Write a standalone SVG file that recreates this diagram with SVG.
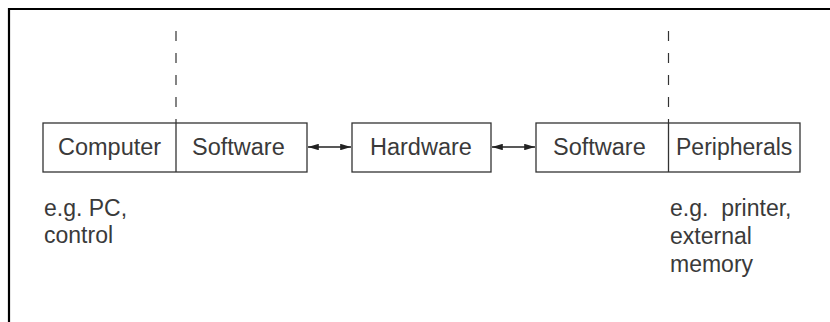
<svg xmlns="http://www.w3.org/2000/svg" width="830" height="322" viewBox="0 0 830 322">
<style>
.box{fill:#fff;stroke:#333;stroke-width:1.3}
.div{stroke:#333;stroke-width:1.3}
.dash{stroke:#333;stroke-width:1.2;stroke-dasharray:10 12;fill:none}
.t{font-family:"Liberation Sans",Arial,sans-serif;font-size:23.5px;fill:#3a3a3a}
.s{font-family:"Liberation Sans",Arial,sans-serif;font-size:23px;fill:#3a3a3a}
.con{stroke:#222;stroke-width:1.4;fill:none;marker-start:url(#ah);marker-end:url(#ah)}
</style>
<defs>
<marker id="ah" viewBox="0 0 10 6" refX="10" refY="3" markerWidth="11" markerHeight="6.5" markerUnits="userSpaceOnUse" orient="auto-start-reverse">
<path d="M0,0 L10,3 L0,6 z" fill="#222"/>
</marker>
</defs>
<rect width="830" height="322" fill="#fff"/>
<path d="M9,322 V9 H830" fill="none" stroke="#000" stroke-width="2.2"/>
<g id="dashes">
<line class="dash" x1="176" y1="31" x2="176" y2="123"/>
<line class="dash" x1="668.5" y1="31" x2="668.5" y2="123"/>
</g>
<g id="computer-node">
<rect class="box" x="43" y="123" width="264" height="49"/>
<line class="div" x1="176" y1="123" x2="176" y2="172"/>
<text class="t" x="58" y="155">Computer</text>
<text class="t" x="192" y="155">Software</text>
</g>
<g id="hardware-node">
<rect class="box" x="352" y="123" width="139" height="49"/>
<text class="t" x="370" y="155">Hardware</text>
</g>
<g id="peripheral-node">
<rect class="box" x="536" y="123" width="264" height="49"/>
<line class="div" x1="668.5" y1="123" x2="668.5" y2="172"/>
<text class="t" x="553" y="155">Software</text>
<text class="t" x="676" y="155" style="font-size:23px">Peripherals</text>
</g>
<g id="connectors">
<line class="con" x1="308" y1="147" x2="351" y2="147"/>
<line class="con" x1="492" y1="147" x2="535" y2="147"/>
</g>
<g id="notes">
<text class="s" x="44" y="216">e.g. PC,</text>
<text class="s" x="44" y="243">control</text>
<text class="s" x="670" y="216" xml:space="preserve">e.g.  printer,</text>
<text class="s" x="670" y="244">external</text>
<text class="s" x="670" y="272">memory</text>
</g>
</svg>
